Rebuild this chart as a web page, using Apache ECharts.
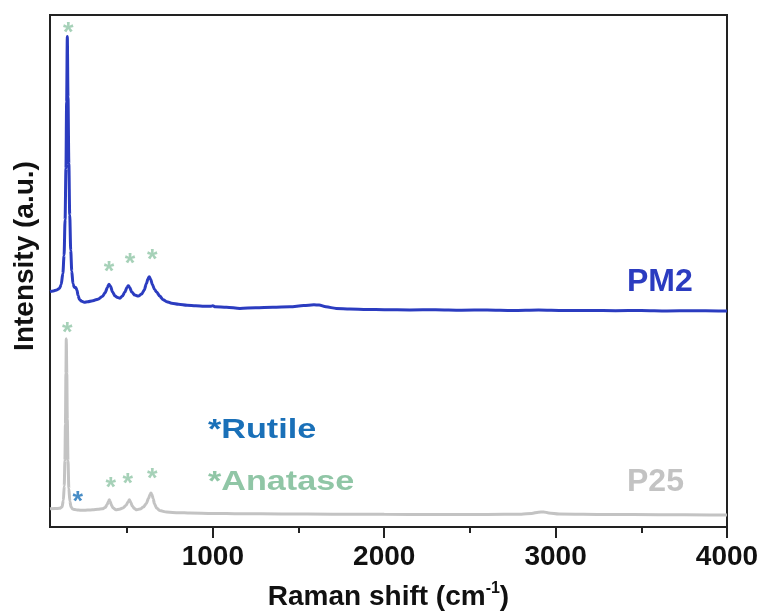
<!DOCTYPE html>
<html>
<head>
<meta charset="utf-8">
<title>Raman spectra PM2 / P25</title>
<script src="https://cdn.jsdelivr.net/npm/echarts@6/dist/echarts.min.js"></script>
<style>
  html, body { margin: 0; padding: 0; background: #ffffff; }
  #chart { width: 764px; height: 616px; }
</style>
</head>
<body>
<div id="chart"></div>
<script>
// Raman shift (cm-1) and intensity (a.u.) for the PM2 sample
const pm2Shift = [50, 70, 90, 105, 115, 125, 132, 138, 143, 147, 151, 155, 160, 165, 171, 177, 184, 192,
  200, 207, 214, 222, 235, 250, 270, 300, 330, 355, 372, 385, 394, 403, 415, 430, 445, 458, 472, 487,
  499, 507, 515, 527, 545, 565, 585, 600, 612, 622, 629, 637, 648, 660, 672, 690, 710, 731, 760, 800,
  850, 900, 950, 985, 1000, 1015, 1080, 1158, 1250, 1350, 1450, 1530, 1590, 1620, 1660, 1720, 1800, 1900, 2000, 2150,
  2300, 2450, 2600, 2750, 2900, 3050, 3200, 3350, 3500, 3650, 3800, 3950, 4000];
const pm2Intensity = [46.0, 46.1, 46.3, 46.6, 47.3, 49.5, 53.0, 60.0, 70.0, 83.0, 95.8, 84.0, 71.0, 61.0, 54.0, 50.0, 47.5, 46.8,
  46.8, 46.3, 45.2, 44.4, 44.1, 43.9, 44.0, 44.2, 44.5, 45.0, 45.8, 46.8, 47.4, 47.0, 45.9, 45.1, 44.8, 44.7, 45.1, 45.9,
  46.8, 47.1, 46.8, 45.9, 45.3, 45.1, 45.5, 46.3, 47.5, 48.5, 48.9, 48.4, 47.3, 46.4, 45.9, 45.1, 44.4, 44.0, 43.7, 43.5,
  43.3, 43.2, 43.1, 43.1, 43.2, 43.0, 42.9, 42.7, 42.8, 42.9, 43.0, 43.25, 43.4, 43.35, 43.0, 42.7, 42.6, 42.5, 42.45, 42.4,
  42.45, 42.35, 42.4, 42.3, 42.4, 42.3, 42.3, 42.25, 42.3, 42.2, 42.25, 42.2, 42.2];

// Raman shift (cm-1) and intensity (a.u.) for the P25 reference
const p25Shift = [50, 80, 105, 120, 128, 133, 137, 140, 143, 145, 148, 151, 155, 160, 166, 173, 182, 195, 215, 240,
  270, 300, 330, 355, 372, 384, 391, 396, 401, 408, 418, 435, 455, 475, 493, 505, 513, 520, 530, 542,
  556, 575, 595, 612, 625, 633, 639, 645, 652, 660, 672, 690, 731, 800, 867, 1000, 1158, 1400, 1700, 2000,
  2300, 2600, 2800, 2860, 2900, 2930, 2960, 3020, 3300, 3600, 3900, 4000];
const p25Intensity = [3.55, 3.6, 3.65, 3.9, 5.2, 8.0, 13.0, 20.0, 30.0, 36.76, 30.0, 21.0, 13.0, 7.5, 5.0, 3.9, 3.5, 3.4, 3.3, 3.25,
  3.3, 3.35, 3.45, 3.55, 3.8, 4.4, 5.0, 5.3, 5.0, 4.3, 3.7, 3.36, 3.45, 3.7, 4.2, 4.9, 5.3, 4.9, 4.1, 3.6,
  3.36, 3.5, 3.9, 4.6, 5.6, 6.3, 6.66, 6.3, 5.5, 4.5, 3.7, 3.2, 2.91, 2.8, 2.72, 2.65, 2.58, 2.55, 2.5, 2.47,
  2.45, 2.45, 2.5, 2.65, 2.9, 2.95, 2.75, 2.55, 2.45, 2.4, 2.35, 2.33];

// Peak assignments: where each asterisk sits (shift, intensity)
const anataseMarksPM2 = [[157, 97.6], [394, 50.8], [517, 52.4], [647, 53.2]];
const anataseMarksP25 = [[151, 39.0], [404, 8.74], [503, 9.5], [647, 10.35]];
const rutileMarksP25 = [[212, 6.0]];

// Axis ticks
const majorTicks = [1000, 2000, 3000, 4000];
const minorTicks = [500, 1500, 2500, 3500];

const FONT = '"Liberation Sans", Arial, Helvetica, sans-serif';
const BLUE = '#2b3cc0';
const GREY = '#c3c3c3';
const GREEN = '#90c6a6';
const RUTILE = '#1a70b8';
const INK = '#111111';

const zip = (xs, ys) => xs.map((x, i) => [x, ys[i]]);

const markSeries = (data, color) => ({
  type: 'scatter',
  data: data,
  symbolSize: 0,
  silent: true,
  z: 5,
  label: {
    show: true,
    position: 'inside',
    formatter: '*',
    color: color,
    fontSize: 27,
    fontWeight: 'bold',
    fontFamily: FONT,
    offset: [0, 6]
  }
});

const chart = echarts.init(document.getElementById('chart'), null, { renderer: 'canvas' });

chart.setOption({
  animation: false,
  backgroundColor: '#ffffff',
  grid: {
    left: 50, right: 37, top: 15, bottom: 86,
    show: true, borderColor: '#222', borderWidth: 2, backgroundColor: 'transparent'
  },
  xAxis: [{
    type: 'value',
    min: 50, max: 4000,
    position: 'bottom',
    axisLine: { show: true, onZero: false, lineStyle: { color: '#222', width: 2 } },
    axisTick: { show: true, customValues: majorTicks, length: 11, inside: false, lineStyle: { color: '#222', width: 2 } },
    axisLabel: {
      show: true, customValues: majorTicks, margin: 16,
      formatter: (v) => String(v),
      color: INK, fontSize: 28, fontWeight: 'bold', fontFamily: FONT
    },
    splitLine: { show: false },
    name: '{n|Raman shift (cm}{s|-1}{n|)}',
    nameLocation: 'middle',
    nameGap: 54,
    nameTextStyle: {
      rich: {
        n: { fontSize: 28, fontWeight: 'bold', fontFamily: FONT, color: INK, lineHeight: 32 },
        s: { fontSize: 16, fontWeight: 'bold', fontFamily: FONT, color: INK, verticalAlign: 'top', lineHeight: 16 }
      }
    }
  }, {
    type: 'value',
    min: 50, max: 4000,
    position: 'bottom',
    axisLine: { show: false },
    axisTick: { show: true, customValues: minorTicks, length: 6, inside: false, lineStyle: { color: '#222', width: 2 } },
    axisLabel: { show: false },
    splitLine: { show: false }
  }],
  yAxis: {
    type: 'value',
    min: 0, max: 100,
    axisLine: { show: true, lineStyle: { color: '#222', width: 2 } },
    axisTick: { show: false },
    axisLabel: { show: false },
    splitLine: { show: false }
  },
  graphic: [
    { type: 'text', x: 25, y: 256, rotation: Math.PI / 2,
      style: { text: 'Intensity (a.u.)', fill: INK, fontSize: 28, fontWeight: 'bold', fontFamily: FONT, align: 'center', verticalAlign: 'middle' } },
    { type: 'text', x: 627, y: 282,
      style: { text: 'PM2', fill: BLUE, fontSize: 32, fontWeight: 'bold', fontFamily: FONT, align: 'left', verticalAlign: 'middle' } },
    { type: 'text', x: 627, y: 482,
      style: { text: 'P25', fill: GREY, fontSize: 32, fontWeight: 'bold', fontFamily: FONT, align: 'left', verticalAlign: 'middle' } },
    { type: 'text', x: 208, y: 430, scaleX: 1.22,
      style: { text: '*Rutile', fill: RUTILE, fontSize: 28, fontWeight: 'bold', fontFamily: FONT, align: 'left', verticalAlign: 'middle' } },
    { type: 'text', x: 208, y: 482, scaleX: 1.22,
      style: { text: '*Anatase', fill: GREEN, fontSize: 28, fontWeight: 'bold', fontFamily: FONT, align: 'left', verticalAlign: 'middle' } }
  ],
  series: [
    {
      name: 'PM2', type: 'line', data: zip(pm2Shift, pm2Intensity),
      showSymbol: false, symbol: 'none', smooth: 0.3, smoothMonotone: 'x',
      lineStyle: { color: BLUE, width: 3 }, z: 3
    },
    {
      name: 'P25', type: 'line', data: zip(p25Shift, p25Intensity),
      showSymbol: false, symbol: 'none', smooth: 0.3, smoothMonotone: 'x',
      lineStyle: { color: GREY, width: 3 }, z: 2
    },
    markSeries(anataseMarksPM2, GREEN),
    markSeries(anataseMarksP25, GREEN),
    markSeries(rutileMarksP25, RUTILE)
  ]
});
</script>
</body>
</html>
